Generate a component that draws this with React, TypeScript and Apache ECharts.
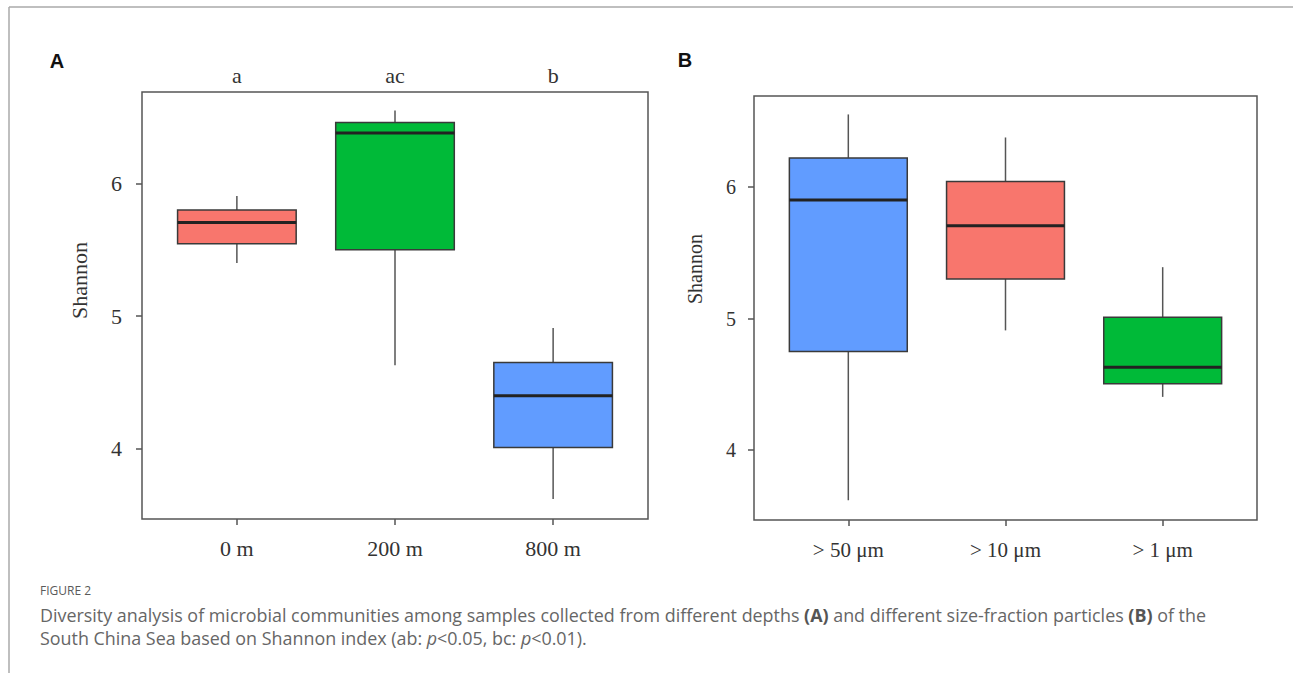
import React, { useEffect, useRef } from "react";
import * as echarts from "echarts";

// Panel A: depths
const depthCategories = ["0 m", "200 m", "800 m"];
const depthLetters = ["a", "ac", "b"];
// box statistics: low whisker, Q1, median, Q3, high whisker
const depthLow = [5.40, 4.63, 3.62];
const depthQ1 = [5.545, 5.50, 4.01];
const depthMedian = [5.705, 6.38, 4.40];
const depthQ3 = [5.80, 6.46, 4.65];
const depthHigh = [5.905, 6.55, 4.91];
const depthColors = ["#F8766D", "#00BA38", "#619CFF"];

// Panel B: size fractions
const sizeCategories = ["> 50 μm", "> 10 μm", "> 1 μm"];
const sizeLow = [3.62, 4.91, 4.405];
const sizeQ1 = [4.75, 5.30, 4.505];
const sizeMedian = [5.90, 5.705, 4.63];
const sizeQ3 = [6.22, 6.04, 5.01];
const sizeHigh = [6.55, 6.375, 5.39];
const sizeColors = ["#619CFF", "#F8766D", "#00BA38"];

const yTicks = [4, 5, 6];
const catPositions = [1, 2, 3];

const SERIF = "'Liberation Serif', 'Times New Roman', serif";
const SANS = "'Open Sans', 'Noto Sans', sans-serif";

function buildData(low: number[], q1: number[], med: number[], q3: number[], high: number[]) {
  return catPositions.map((p, i) => [p, low[i], q1[i], med[i], q3[i], high[i]]);
}

function makeRender(colors: string[]) {
  return (params: any, api: any) => {
    const x = api.value(0);
    const low = api.coord([x, api.value(1)]);
    const q1 = api.coord([x, api.value(2)]);
    const med = api.coord([x, api.value(3)]);
    const q3 = api.coord([x, api.value(4)]);
    const high = api.coord([x, api.value(5)]);
    const halfW = api.size([0.75, 0])[0] / 2;
    const cx = low[0];
    const color = colors[params.dataIndex];
    return {
      type: "group",
      children: [
        {
          type: "line",
          shape: { x1: cx, y1: high[1], x2: cx, y2: q3[1] },
          style: { stroke: "#555", lineWidth: 1.5 },
        },
        {
          type: "line",
          shape: { x1: cx, y1: q1[1], x2: cx, y2: low[1] },
          style: { stroke: "#555", lineWidth: 1.5 },
        },
        {
          type: "rect",
          shape: { x: cx - halfW, y: q3[1], width: halfW * 2, height: q1[1] - q3[1] },
          style: { fill: color, stroke: "#3a3a3a", lineWidth: 1.5 },
        },
        {
          type: "line",
          shape: { x1: cx - halfW, y1: med[1], x2: cx + halfW, y2: med[1] },
          style: { stroke: "#222", lineWidth: 3 },
        },
      ],
    };
  };
}

function xAxisBottom(gridIndex: number, labels: string[], margin: number, fontSize: number) {
  return {
    type: "value",
    gridIndex,
    min: 0.4,
    max: 3.6,
    axisLine: { show: false },
    splitLine: { show: false },
    axisTick: {
      show: true,
      customValues: catPositions,
      length: 6,
      lineStyle: { color: "#555", width: 1.5 },
    },
    axisLabel: {
      show: true,
      customValues: catPositions,
      formatter: (v: number) => labels[Math.round(v) - 1] ?? "",
      margin,
      fontFamily: SERIF,
      fontSize,
      color: "#333",
    },
  };
}

function yAxisDef(
  gridIndex: number,
  nameGap: number,
  nameShift: number,
  margin: number,
  fontSize: number,
  nameSize: number
) {
  return {
    type: "value",
    gridIndex,
    min: 3.47,
    max: 6.69,
    name: "Shannon",
    nameLocation: "middle",
    nameRotate: 90,
    nameGap,
    nameTextStyle: {
      fontFamily: SERIF,
      fontSize: nameSize,
      color: "#333",
      padding: [0, 0, 0, nameShift],
    },
    axisLine: { show: false },
    splitLine: { show: false },
    axisTick: {
      show: true,
      customValues: yTicks,
      length: 6,
      lineStyle: { color: "#555", width: 1.5 },
    },
    axisLabel: {
      show: true,
      customValues: yTicks,
      margin,
      fontFamily: SERIF,
      fontSize,
      color: "#333",
    },
  };
}

export default function App() {
  const ref = useRef<HTMLDivElement>(null);

  useEffect(() => {
    if (!ref.current) return;
    const chart = echarts.init(ref.current, null, { renderer: "svg" });
    const option: any = {
      animation: false,
      backgroundColor: "#ffffff",
      grid: [
        {
          left: 142, top: 92, width: 506, height: 427,
          show: true, borderColor: "#555", borderWidth: 1.5, backgroundColor: "transparent",
        },
        {
          left: 754, top: 96, width: 503, height: 424,
          show: true, borderColor: "#555", borderWidth: 1.5, backgroundColor: "transparent",
        },
      ],
      xAxis: [
        xAxisBottom(0, depthCategories, 18, 22),
        {
          type: "value",
          gridIndex: 0,
          position: "top",
          min: 0.4,
          max: 3.6,
          axisLine: { show: false },
          splitLine: { show: false },
          axisTick: { show: false },
          axisLabel: {
            show: true,
            customValues: catPositions,
            formatter: (v: number) => depthLetters[Math.round(v) - 1] ?? "",
            margin: 6,
            fontFamily: SERIF,
            fontSize: 22,
            color: "#333",
          },
        },
        xAxisBottom(1, sizeCategories, 19, 21),
      ],
      yAxis: [yAxisDef(0, 52, 50, 20, 22, 22), yAxisDef(1, 49, 78, 18, 20, 20)],
      series: [
        {
          type: "custom",
          xAxisIndex: 0,
          yAxisIndex: 0,
          renderItem: makeRender(depthColors),
          encode: { x: 0, y: [1, 2, 3, 4, 5] },
          data: buildData(depthLow, depthQ1, depthMedian, depthQ3, depthHigh),
        },
        {
          type: "custom",
          xAxisIndex: 2,
          yAxisIndex: 1,
          renderItem: makeRender(sizeColors),
          encode: { x: 0, y: [1, 2, 3, 4, 5] },
          data: buildData(sizeLow, sizeQ1, sizeMedian, sizeQ3, sizeHigh),
        },
      ],
      graphic: [
        {
          type: "line",
          shape: { x1: 9, y1: 7, x2: 1293, y2: 7 },
          style: { stroke: "#aaa", lineWidth: 1.5 },
        },
        {
          type: "line",
          shape: { x1: 9, y1: 7, x2: 9, y2: 673 },
          style: { stroke: "#aaa", lineWidth: 1.5 },
        },
        {
          type: "text",
          x: 57,
          y: 61,
          style: {
            text: "A",
            fontFamily: "'Liberation Sans', Arial, sans-serif",
            fontWeight: "bold",
            fontSize: 20,
            fill: "#111",
            align: "center",
            verticalAlign: "middle",
          },
        },
        {
          type: "text",
          x: 685,
          y: 60,
          style: {
            text: "B",
            fontFamily: "'Liberation Sans', Arial, sans-serif",
            fontWeight: "bold",
            fontSize: 20,
            fill: "#111",
            align: "center",
            verticalAlign: "middle",
          },
        },
        {
          type: "text",
          x: 40,
          y: 590,
          style: {
            text: "FIGURE 2",
            fontFamily: SANS,
            fontSize: 12,
            fill: "#5a5a5a",
            align: "left",
            verticalAlign: "middle",
          },
        },
        {
          type: "text",
          x: 40,
          y: 615,
          style: {
            text:
              "Diversity analysis of microbial communities among samples collected from different depths {b|(A)} and different size-fraction particles {b|(B)} of the",
            fontFamily: SANS,
            fontSize: 17.9,
            fill: "#666",
            align: "left",
            verticalAlign: "middle",
            rich: {
              b: { fontFamily: SANS, fontSize: 17.9, fontWeight: "bold", fill: "#555" },
            },
          },
        },
        {
          type: "text",
          x: 40,
          y: 638,
          style: {
            text: "South China Sea based on Shannon index (ab: {i|p}<0.05, bc: {i|p}<0.01).",
            fontFamily: SANS,
            fontSize: 17.9,
            fill: "#666",
            align: "left",
            verticalAlign: "middle",
            rich: {
              i: { fontFamily: SANS, fontSize: 17.9, fontStyle: "italic", fill: "#666" },
            },
          },
        },
      ],
    };
    chart.setOption(option);
    return () => chart.dispose();
  }, []);

  return (
    <div
      ref={ref}
      style={{ position: "absolute", left: 0, top: 0, width: 1293, height: 673, background: "#fff" }}
    />
  );
}
